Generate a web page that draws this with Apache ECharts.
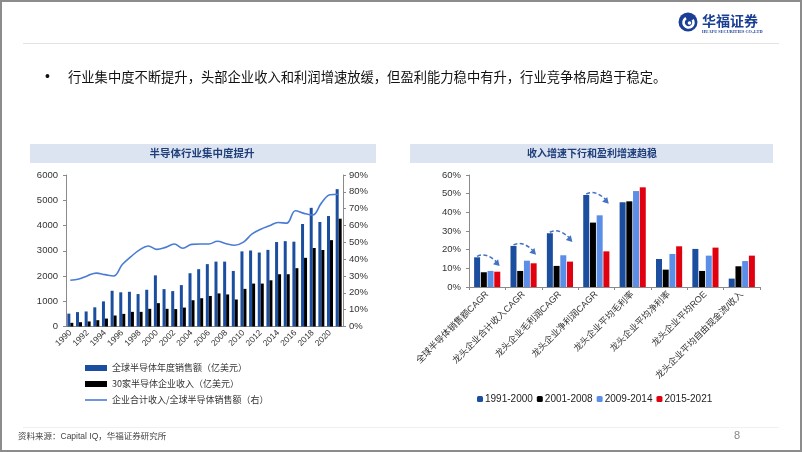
<!DOCTYPE html>
<html><head><meta charset="utf-8">
<script src="https://cdn.jsdelivr.net/npm/echarts@6/dist/echarts.min.js"></script>
<style>html,body{margin:0;padding:0;background:#fff}#c{width:802px;height:452px}</style>
</head><body><div id="c"></div>
<script>
// ---- Left chart data ----
const years = ['1990','1991','1992','1993','1994','1995','1996','1997','1998','1999','2000','2001','2002','2003','2004','2005','2006','2007','2008','2009','2010','2011','2012','2013','2014','2015','2016','2017','2018','2019','2020','2021'];
const globalSales = [510,570,596,760,995,1415,1355,1375,1285,1455,2025,1480,1402,1640,2110,2270,2470,2570,2570,2200,2975,3010,2930,3035,3345,3380,3360,4060,4700,4140,4375,5440];
const top30Revenue = [145,170,200,250,315,435,500,580,580,700,925,700,690,750,1040,1120,1210,1310,1270,1070,1490,1700,1700,1830,2070,2070,2310,2720,3110,3030,3420,4270];
const shareRatio = [27.5,28.2,30.2,31.7,30.8,30.0,36.8,41.5,45.5,47.8,45.8,47.0,49.0,46.5,48.8,49.0,49.0,50.6,49.2,48.3,50.1,55.0,57.8,59.8,61.8,61.4,68.8,67.2,66.2,73.3,78.3,78.6];
const leftNames = ['全球半导体年度销售额（亿美元）','30家半导体企业收入（亿美元）','企业合计收入/全球半导体销售额（右）'];
// ---- Right chart data ----
const metrics = ['全球半导体销售额CAGR','龙头企业合计收入CAGR','龙头企业毛利润CAGR','龙头企业净利润CAGR','龙头企业平均毛利率','龙头企业平均净利率','龙头企业平均ROE','龙头企业平均自由现金流/收入'];
const periods = ['1991-2000','2001-2008','2009-2014','2015-2021'];
const p1991 = [15.9,22.0,28.8,49.3,45.4,15.0,20.4,4.5];
const p2001 = [7.9,8.6,11.3,34.5,45.9,9.3,8.6,11.1];
const p2009 = [8.6,14.1,17.0,38.4,51.4,17.7,16.8,13.9];
const p2015 = [8.2,12.7,13.6,19.1,53.4,21.8,21.1,16.8];
const arrowGroups = [0,1,2,3];

const BLUE='#1C4E9F', LIGHT='#5B8EE6', RED='#E0000F', LINE='#4A7CD4';
const FF = 'Liberation Sans, Noto Sans CJK SC, sans-serif';
const CJK = 'Noto Sans CJK SC, sans-serif';

const chart = echarts.init(document.getElementById('c'), null, {renderer:'canvas'});
const axisLine = {show:true, lineStyle:{color:'#8a8a8a', width:1}};

const option = {
  animation:false,
  backgroundColor:'#fff',
  textStyle:{fontFamily:FF},
  grid:[
    {left:66, top:175, width:277, height:151.5},
    {left:469, top:175, width:291, height:112}
  ],
  xAxis:[
    {type:'category', gridIndex:0, data:years, axisLine:axisLine, axisTick:{show:false},
     axisLabel:{rotate:45, interval:1, fontSize:8.5, color:'#333', margin:5, fontFamily:FF}},
    {type:'category', gridIndex:1, data:metrics, axisLine:axisLine, axisTick:{show:true, length:3, lineStyle:{color:'#8a8a8a'}},
     axisLabel:{rotate:45, interval:0, fontSize:9, color:'#333', margin:6, fontFamily:FF}}
  ],
  yAxis:[
    {type:'value', gridIndex:0, min:0, max:6000, interval:1000, splitLine:{show:false}, axisLine:axisLine,
     axisTick:{show:true, length:3, lineStyle:{color:'#8a8a8a'}}, axisLabel:{fontSize:9.5, color:'#333', margin:8, formatter:function(v){return String(v);}}},
    {type:'value', gridIndex:0, position:'right', min:0, max:90, interval:10, splitLine:{show:false}, axisLine:axisLine,
     axisTick:{show:true, length:3, lineStyle:{color:'#8a8a8a'}}, axisLabel:{fontSize:9.5, color:'#333', margin:6, formatter:'{value}%'}},
    {type:'value', gridIndex:1, min:0, max:60, interval:10, splitLine:{show:false}, axisLine:axisLine,
     axisTick:{show:true, length:3, lineStyle:{color:'#8a8a8a'}}, axisLabel:{fontSize:9.5, color:'#333', margin:8, formatter:'{value}%'}}
  ],
  legend:[
    {data:[{name:leftNames[0], icon:'rect'},{name:leftNames[1], icon:'rect'},{name:leftNames[2], icon:'path://M0,0H22V1.6H0Z'}],
     orient:'vertical', left:80, top:357, itemWidth:22, itemHeight:6, itemGap:4, symbolKeepAspect:true,
     textStyle:{fontSize:9, color:'#333', fontFamily:CJK, lineHeight:12}},
    {data:periods, orient:'horizontal', left:472, top:389, itemWidth:6, itemHeight:6, itemGap:4,
     textStyle:{fontSize:10, color:'#222', fontFamily:FF, padding:[0,0,0,-3]}}
  ],
  series:[
    {name:leftNames[0], type:'bar', xAxisIndex:0, yAxisIndex:0, data:globalSales, barWidth:3, barGap:'0%', itemStyle:{color:BLUE}},
    {name:leftNames[1], type:'bar', xAxisIndex:0, yAxisIndex:0, data:top30Revenue, barWidth:3, barGap:'0%', itemStyle:{color:'#000'}},
    {name:leftNames[2], type:'line', xAxisIndex:0, yAxisIndex:1, data:shareRatio, smooth:0.4, symbol:'none',
     lineStyle:{color:LINE, width:1.6}, itemStyle:{color:LINE}, z:5},
    {name:periods[0], type:'bar', xAxisIndex:1, yAxisIndex:2, data:p1991, barWidth:6, barGap:'12%', itemStyle:{color:BLUE}},
    {name:periods[1], type:'bar', xAxisIndex:1, yAxisIndex:2, data:p2001, barWidth:6, barGap:'12%', itemStyle:{color:'#000'}},
    {name:periods[2], type:'bar', xAxisIndex:1, yAxisIndex:2, data:p2009, barWidth:6, barGap:'12%', itemStyle:{color:LIGHT}},
    {name:periods[3], type:'bar', xAxisIndex:1, yAxisIndex:2, data:p2015, barWidth:6, barGap:'12%', itemStyle:{color:RED}}
  ],
  graphic:[
    {id:'frame', type:'rect', shape:{x:1,y:1,width:800,height:450}, style:{fill:'none', stroke:'#8c8c8c', lineWidth:2}, z:100},
    {id:'hline', type:'line', shape:{x1:23,y1:43.5,x2:779,y2:43.5}, style:{stroke:'#e3e3e3', lineWidth:1}},
    {id:'bline', type:'line', shape:{x1:23,y1:427.5,x2:779,y2:427.5}, style:{stroke:'#f0f0f0', lineWidth:1}},
    {id:'logoC', type:'circle', shape:{cx:688,cy:22,r:9.5}, style:{fill:'#1B3F94'}},
    {id:'logoA', type:'arc', shape:{cx:688.5,cy:22.5,r:5,startAngle:-0.6,endAngle:4.2}, style:{stroke:'#fff', lineWidth:2.6, fill:'none'}},
    {id:'logoD', type:'circle', shape:{cx:689.5,cy:23,r:1.8}, style:{fill:'#fff'}},
    {id:'logoT', type:'text', style:{text:'华福证券', x:702, y:21, font:'bold 14px '+CJK, fill:'#1B3F94', textVerticalAlign:'middle'}},
    {id:'logoE', type:'text', style:{text:'HUAFU SECURITIES CO.,LTD', x:702, y:31.5, font:'bold 4.3px Liberation Serif, serif', fill:'#1B3F94', textVerticalAlign:'middle'}},
    {id:'bullet', type:'text', style:{text:'•', x:45, y:77, font:'14px '+FF, fill:'#111', textVerticalAlign:'middle'}},
    {id:'btext', type:'text', style:{text:'行业集中度不断提升，头部企业收入和利润增速放缓，但盈利能力稳中有升，行业竞争格局趋于稳定。', x:68, y:77, font:'13.3px '+CJK, fill:'#111', textVerticalAlign:'middle'}},
    {id:'tbarL', type:'rect', shape:{x:30,y:144,width:346,height:19}, style:{fill:'#DCE4F1'}},
    {id:'tbarR', type:'rect', shape:{x:410,y:144,width:363,height:19}, style:{fill:'#DCE4F1'}},
    {id:'ttextL', type:'text', style:{text:'半导体行业集中度提升', x:202, y:153.5, font:'bold 10.5px '+CJK, fill:'#1F3E7A', textAlign:'center', textVerticalAlign:'middle'}},
    {id:'ttextR', type:'text', style:{text:'收入增速下行和盈利增速趋稳', x:592, y:153.5, font:'bold 10px '+CJK, fill:'#1F3E7A', textAlign:'center', textVerticalAlign:'middle'}},
    {id:'src', type:'text', style:{text:'资料来源：Capital IQ，华福证券研究所', x:18, y:437, font:'8.5px '+FF, fill:'#444', textVerticalAlign:'middle'}},
    {id:'pg', type:'text', style:{text:'8', x:737, y:436, font:'11px '+FF, fill:'#888', textAlign:'center', textVerticalAlign:'middle'}}
  ]
};
chart.setOption(option);

// dashed arrows over the first four groups, positioned through the chart's own scales
const barW = 6, gapW = 6*0.12, groupW = 4*barW + 3*gapW;
const blueOff = -groupW/2 + barW/2, redOff = groupW/2 - barW/2;
const arrows = [];
arrowGroups.forEach(function(i){
  const p0 = chart.convertToPixel({seriesIndex:3}, [i, p1991[i]]);
  const p1 = chart.convertToPixel({seriesIndex:3}, [i, p1991[i]-5]);
  const x0 = p0[0] + blueOff, y0 = p0[1] - 1;
  const x1 = p1[0] + redOff + 1, y1 = p1[1];
  const cx = x0 + (x1-x0)*0.45, cy = y0 - 5;
  arrows.push({id:'arc'+i, type:'bezierCurve', z:50,
    shape:{x1:x0,y1:y0,x2:x1,y2:y1-3,cpx1:cx,cpy1:cy},
    style:{stroke:'#4472C4', lineWidth:1.5, lineDash:[4,2.5], fill:'none'}});
  const ang = Math.atan2((y1-3)-cy, x1-cx);
  const L = 6, W = 3.5;
  const tx = x1 + Math.cos(ang)*2, ty = y1 - 3 + Math.sin(ang)*2 + 1;
  const bx = tx - Math.cos(ang)*L, by = ty - Math.sin(ang)*L;
  const nx = -Math.sin(ang)*W, ny = Math.cos(ang)*W;
  arrows.push({id:'head'+i, type:'polygon', z:50,
    shape:{points:[[tx,ty],[bx+nx,by+ny],[bx-nx,by-ny]]}, style:{fill:'#4472C4'}});
});
chart.setOption({graphic: arrows});
</script>
</body></html>
